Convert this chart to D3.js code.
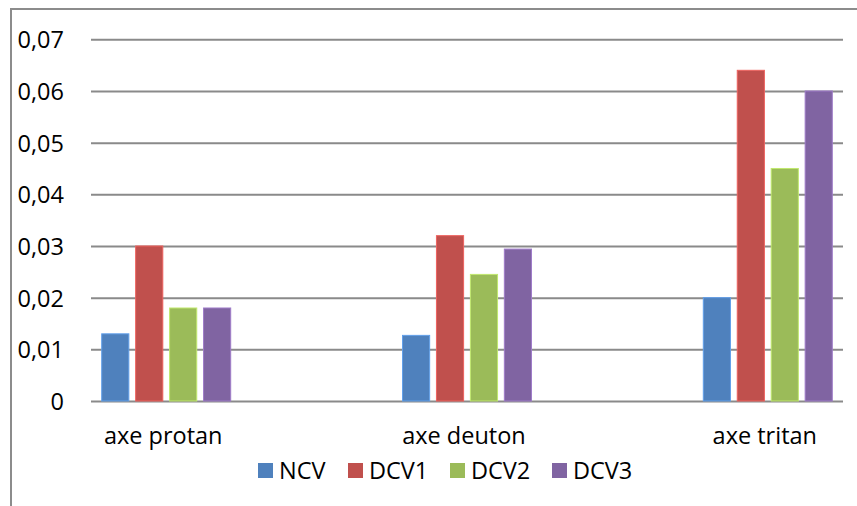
<!DOCTYPE html>
<html>
<head>
<meta charset="utf-8">
<script src="https://cdn.jsdelivr.net/npm/d3@7/dist/d3.min.js"></script>
<style>
  html, body { margin: 0; padding: 0; background: #fff; }
  svg { display: block; font-family: "Open Sans", "Noto Sans", sans-serif; }
</style>
</head>
<body>
<svg id="chart" width="857" height="506"></svg>
<script>
// Categories, series and values
const categories = ["axe protan", "axe deuton", "axe tritan"];
const seriesNames = ["NCV", "DCV1", "DCV2", "DCV3"];
const NCV  = [0.013, 0.0127, 0.020];
const DCV1 = [0.030, 0.032, 0.064];
const DCV2 = [0.018, 0.0245, 0.045];
const DCV3 = [0.018, 0.0294, 0.060];
const yTicks = [0, 0.01, 0.02, 0.03, 0.04, 0.05, 0.06, 0.07];
const colors = ["#4F81BD", "#C0504D", "#9BBB59", "#8064A2"];

const seriesValues = [NCV, DCV1, DCV2, DCV3];
const rows = categories.map((c, i) => ({
  category: c,
  values: seriesNames.map((s, j) => ({ series: s, value: seriesValues[j][i], color: colors[j] }))
}));

const svg = d3.select("#chart");
const plot = { left: 91, right: 843, top: 39.3, bottom: 401 };
const fontSize = 23.5;

const x = d3.scalePoint().domain(categories).range([plot.left, plot.right]).padding(0.25);
const xInner = d3.scaleBand().domain(seriesNames).range([-64.5, 64.5]).paddingInner(0.2).paddingOuter(0);
const y = d3.scaleLinear().domain([0, 0.07]).range([plot.bottom, plot.top]);

// Frame
svg.append("path")
  .attr("d", "M11,506 L11,9 L857,9")
  .attr("fill", "none").attr("stroke", "#8c8c8c").attr("stroke-width", 2);

// Gridlines and tick labels
const yAxis = d3.axisLeft(y).tickValues(yTicks)
  .tickSize(-(plot.right - plot.left))
  .tickFormat(d => d === 0 ? "0" : d3.format(".2f")(d).replace(".", ","));
const gy = svg.append("g").attr("transform", `translate(${plot.left},0)`).call(yAxis);
gy.select(".domain").remove();
gy.selectAll(".tick line").attr("stroke", "#8a8a8a").attr("stroke-width", 2);
gy.selectAll(".tick text")
  .attr("x", -27).attr("dy", "0.36em")
  .attr("font-size", fontSize).attr("fill", "#000")
  .attr("font-family", "'Open Sans', sans-serif");

// Bars
const groups = svg.append("g").selectAll("g").data(rows).join("g")
  .attr("transform", d => `translate(${x(d.category)},0)`);
groups.selectAll("rect").data(d => d.values).join("rect")
  .attr("x", d => xInner(d.series))
  .attr("width", xInner.bandwidth())
  .attr("y", d => y(d.value))
  .attr("height", d => y(0) - y(d.value))
  .attr("fill", d => d.color)
  .attr("stroke", d => d3.color(d.color).brighter(0.6))
  .attr("stroke-width", 1);

// Category labels
svg.append("g").selectAll("text").data(categories).join("text")
  .attr("x", d => x(d) - 3)
  .attr("y", 444)
  .attr("text-anchor", "middle")
  .attr("font-size", fontSize)
  .attr("fill", "#000")
  .text(d => d);

// Legend
const legendX = [258, 348, 450, 552];
const legend = svg.append("g").selectAll("g").data(seriesNames).join("g")
  .attr("transform", (d, i) => `translate(${legendX[i]},463)`);
legend.append("rect").attr("width", 15).attr("height", 15).attr("fill", (d, i) => colors[i]);
legend.append("text").attr("x", 21).attr("y", 15.5)
  .attr("font-size", fontSize).attr("fill", "#000").text(d => d);
</script>
</body>
</html>
